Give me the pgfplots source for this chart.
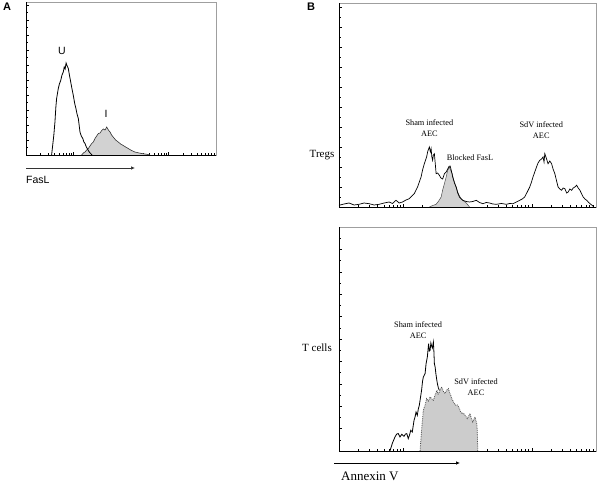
\documentclass[border=0pt]{standalone}
\usepackage{pgfplots}
\pgfplotsset{compat=1.18}
\usepackage{fontspec}
\setmainfont{Liberation Serif}
\newfontfamily\arial{Liberation Sans}
\usetikzlibrary{arrows.meta}

% log-decade channel axis, 4 decades over 1024 channels
\pgfplotsset{facs/.style={
  scale only axis, xmin=0, xmax=1024, ymin=0,
  xtick={0,256,512,768,1024},
  minor xtick={77,122,154,179,199,216,231,244,333,378,410,435,455,472,487,500,
               589,634,666,691,711,728,743,756,845,890,922,947,967,984,999,1012},
  xticklabels={}, yticklabels={}, minor y tick num=1,
  tick align=inside, major tick length=2.5pt, minor tick length=1.5pt,
  xtick pos=bottom, ytick pos=left,
  axis line style={gray!75, line width=0.6pt},
  tick style={black, line width=0.5pt},
  clip=false,
}}

\begin{document}
\begin{tikzpicture}[x=1pt,y=1pt]
\useasboundingbox (0,0) rectangle (600,482);

% ---------------- panel A
\node[anchor=north west, font=\arial\bfseries\fontsize{11}{13}\selectfont, inner sep=0pt] at (3,479) {A};
\begin{axis}[facs, at={(26pt,327pt)}, anchor=south west, width=190pt, height=153pt,
  ymax=153, ytick={0,15,...,150}]
\addplot[fill=gray!35, draw=black!80, line width=0.6pt] coordinates {
(300,0) (309,2) (318,3) (327,5) (336,6.5) (345,9) (354,11.5) (363,13) (372,16.5)
(381,19) (390,21.5) (399,22) (408,24.5) (417,26) (426,25) (435,28) (444,25)
(453,23) (461,20) (470,18) (483,15) (497,13) (510,11) (524,9.5) (537,8)
(551,6.5) (569,4.5) (587,3) (610,2) (632,1.2) (650,0.8) (668,0)};
\addplot[black, line width=0.8pt] coordinates {
(138,0) (150,20) (156,33) (161,48) (165,56.5) (170,62) (174,66.5) (180,71) (187,74.5)
(194,80) (201,83) (206,88) (211,86) (216,92) (222,89) (228,86.5) (234,80) (241,73)
(248,66) (255,59.5) (262,52) (269,46.5) (275,41) (282,36.5) (287,29) (291,23)
(298,19) (306,16.5) (312,13) (318,11.5) (324,8.5) (330,6.5) (336,4.5) (341,3) (348,1.5) (356,0)};
\node[font=\arial\fontsize{10.5}{12}\selectfont] at (axis cs:194,104.5) {U};
\node[font=\arial\fontsize{10.5}{12}\selectfont] at (axis cs:431,41.5) {I};
\draw[black, line width=0.8pt] (rel axis cs:0,0) -- (rel axis cs:1,0);
\draw[black, line width=0.7pt] (rel axis cs:0,0) -- (rel axis cs:0,1);
\end{axis}
\draw[black!80, line width=0.7pt, -{Latex[length=4pt,width=3.5pt]}] (26,314) -- (135,314);
\node[anchor=west, inner sep=0pt, font=\arial\fontsize{10.5}{12}\selectfont] at (26,302) {FasL};

% ---------------- panel B, top
\node[anchor=north west, font=\arial\bfseries\fontsize{11}{13}\selectfont, inner sep=0pt] at (307,479) {B};
\begin{axis}[facs, at={(339pt,275pt)}, anchor=south west, width=257pt, height=204pt,
  ymax=204, ytick={0,20,...,200}]
\addplot[fill=gray!35, draw=black!70, line width=0.5pt] coordinates {
(360,0) (373,1.5) (387,2.7) (397,6) (407,10) (413,17) (420,23.3) (427,30) (433,36.7)
(440,40) (446,36) (451,33.3) (456,28) (460,25) (466,20) (473,15) (480,11)
(487,8.3) (497,6) (507,4) (514,2) (520,0)};
\addplot[black, line width=0.7pt] coordinates {
(0,1.7) (20,3) (40,4) (60,2) (80,2.7) (100,4) (120,3.3) (140,2) (160,2.7) (180,4)
(200,5) (213,3.5) (227,6.7) (240,4) (253,5) (267,7) (280,8.3) (290,11) (300,13.3)
(307,17) (313,20) (320,25) (327,30) (333,37) (340,43.3) (345,47) (349,50) (354,56)
(360,60) (364,55) (367,58.3) (370,50) (373,46.7) (376,52) (380,53.3) (384,42) (387,33.3)
(393,34) (400,31.7) (406,29) (413,28) (420,33.3) (427,35) (433,38) (438,40.5) (443,41)
(448,36) (453,30) (460,24) (467,20) (473,14) (480,10) (487,8) (493,6.7) (507,5.5)
(520,5) (533,5.5) (547,6.7) (560,4.5) (573,3.3) (587,4.5) (600,4) (613,3) (627,2.7)
(647,3.5) (667,2.7) (680,3.5) (693,3.3) (707,5) (720,6.7) (730,8) (740,10) (750,15)
(760,20) (767,25) (773,30) (780,35) (787,40) (793,44) (800,46.7) (807,48) (813,50)
(817,45) (820,53.3) (827,48) (833,43.3) (840,46) (847,43.3) (853,38) (860,33.3)
(867,26) (873,20) (880,18) (887,16.7) (893,19) (900,18.3) (907,14) (913,15) (920,18)
(927,16.7) (933,19) (940,20) (947,21.7) (953,19) (960,16.7) (967,13) (973,10)
(980,8) (987,6.7) (993,5) (1000,3.3) (1007,2) (1013,0.7)};
\node[align=center, font=\fontsize{8.3}{11}\selectfont] at (axis cs:360,78.7) {Sham infected\\AEC};
\node[font=\fontsize{8.3}{11}\selectfont] at (axis cs:522,49.7) {Blocked FasL};
\node[align=center, font=\fontsize{8.3}{11}\selectfont] at (axis cs:806,76.7) {SdV infected\\AEC};
\draw[black, line width=0.8pt] (rel axis cs:0,0) -- (rel axis cs:1,0);
\draw[black, line width=0.7pt] (rel axis cs:0,0) -- (rel axis cs:0,1);
\end{axis}
\node[font=\fontsize{11}{13}\selectfont] at (322,327) {Tregs};

% ---------------- panel B, bottom
\begin{axis}[facs, at={(339pt,31pt)}, anchor=south west, width=257pt, height=224pt,
  ymax=224, ytick={0,22.4,...,224}]
\addplot[fill=gray!40, draw=gray!60!black, densely dotted, line width=0.8pt] coordinates {
(323,0) (329,20.7) (336,40.7) (343,45.7) (349,52.4) (356,50) (363,54) (370,52) (376,50.7)
(383,56) (390,60.7) (395,57) (400,59) (405,62) (409,64) (415,60) (422,57.4) (429,61)
(436,62.4) (441,58) (445,55.7) (450,52) (456,49) (461,47) (466,45.7) (472,46) (477,44)
(483,40) (489,37.4) (495,38) (502,35.7) (507,34) (511,32.4) (517,35) (522,37.4)
(528,32) (533,29) (538,32) (542,34) (546,30) (549,27.4) (551,20) (553,0)};
\addplot[black, line width=0.8pt] coordinates {
(203,0) (213,8) (223,14) (230,17) (236,17.4) (243,14) (250,16.7) (259,14.7) (265,17)
(270,17.4) (276,12.4) (281,16) (286,20.7) (292,19) (299,30.7) (303,34) (307,39)
(312,35.7) (316,42) (320,45.7) (325,54) (329,60.7) (333,70) (336,74) (343,77.4)
(347,87.4) (352,94) (357,107.4) (360,100) (363,100.7) (366,108) (369,105) (372,103)
(376,109) (378,100) (380,87.4) (383,84) (386,77.4) (389,72) (392,67.4) (396,63)
(400,60.7)};
\node[align=center, font=\fontsize{8.3}{11}\selectfont] at (axis cs:315,120.7) {Sham infected\\AEC};
\node[align=center, font=\fontsize{8.3}{11}\selectfont] at (axis cs:546,63.7) {SdV infected\\AEC};
\draw[black, line width=0.8pt] (rel axis cs:0,0) -- (rel axis cs:1,0);
\draw[black, line width=0.7pt] (rel axis cs:0,0) -- (rel axis cs:0,1);
\end{axis}
\node[font=\fontsize{11}{13}\selectfont] at (317,134) {T cells};
\draw[black, line width=0.7pt, -{Latex[length=4pt,width=3.5pt]}] (334,19) -- (460,19);
\node[anchor=south west, inner sep=0pt, font=\fontsize{13}{15}\selectfont] at (341,1.5) {Annexin V};
\end{tikzpicture}
\end{document}
